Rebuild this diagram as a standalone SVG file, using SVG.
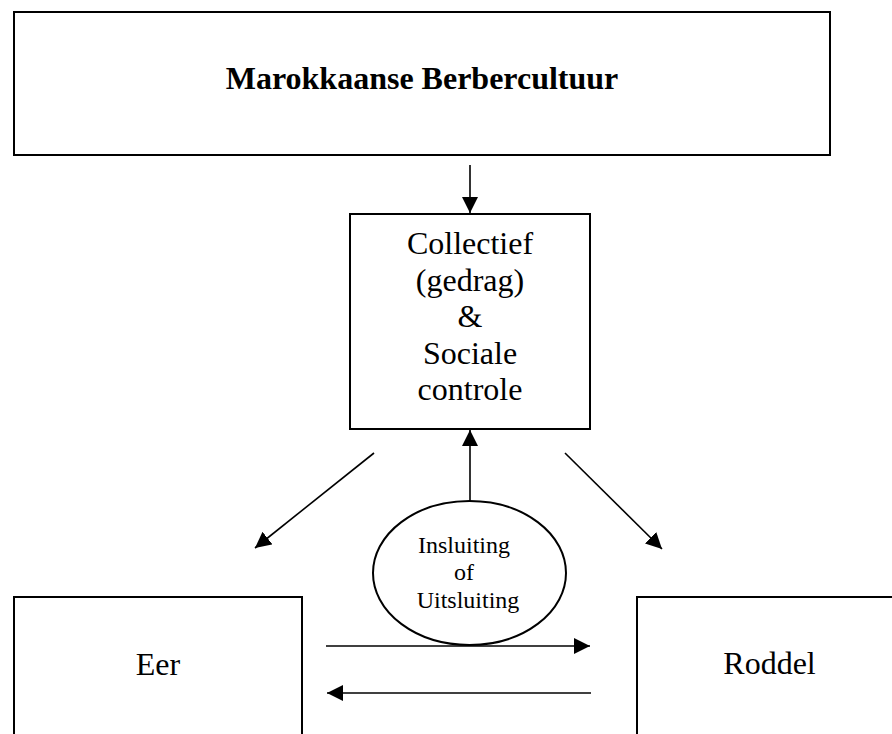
<svg xmlns="http://www.w3.org/2000/svg" width="892" height="734" viewBox="0 0 892 734">
  <style>
    .box { fill: #ffffff; stroke: #000000; stroke-width: 2; }
    .oval { fill: #ffffff; stroke: #000000; stroke-width: 2; }
    .edge { fill: none; stroke: #000000; stroke-width: 1.6; }
    .lbl { font-family: "Liberation Serif", "Times New Roman", serif; fill: #000000; text-anchor: middle; }
    .big { font-size: 32px; }
    .title { font-size: 32px; font-weight: bold; }
    .small { font-size: 24px; }
  </style>
  <defs>
    <marker id="arrow" viewBox="0 0 16 16" refX="16" refY="8" markerWidth="16" markerHeight="16" markerUnits="userSpaceOnUse" orient="auto">
      <path d="M0,0 L16,8 L0,16 Z" fill="#000000"/>
    </marker>
  </defs>

  <rect width="892" height="734" fill="#ffffff"/>

  <!-- connectors -->
  <g id="connectors">
    <line class="edge" x1="470" y1="165" x2="470" y2="213" marker-end="url(#arrow)"/>
    <line class="edge" x1="470" y1="501" x2="470" y2="430" marker-end="url(#arrow)"/>
    <line class="edge" x1="374" y1="453" x2="255" y2="548" marker-end="url(#arrow)"/>
    <line class="edge" x1="565" y1="453" x2="662" y2="549" marker-end="url(#arrow)"/>
    <line class="edge" x1="326" y1="646" x2="590" y2="646" marker-end="url(#arrow)"/>
    <line class="edge" x1="591" y1="693" x2="327" y2="693" marker-end="url(#arrow)"/>
  </g>

  <!-- culture -->
  <g id="node-culture">
    <rect class="box" x="14" y="12" width="816" height="143"/>
    <text class="lbl title" x="422" y="89">Marokkaanse Berbercultuur</text>
  </g>

  <!-- collective behaviour and social control -->
  <g id="node-collective">
    <rect class="box" x="350" y="214" width="240" height="215"/>
    <text class="lbl big" x="470" y="254">Collectief</text>
    <text class="lbl big" x="470" y="290.5">(gedrag)</text>
    <text class="lbl big" x="470" y="327">&amp;</text>
    <text class="lbl big" x="470" y="363.5">Sociale</text>
    <text class="lbl big" x="470" y="400">controle</text>
  </g>

  <!-- inclusion / exclusion -->
  <g id="node-inclusion">
    <ellipse class="oval" cx="469.5" cy="573" rx="96.5" ry="72"/>
    <text class="lbl small" x="464" y="553">Insluiting</text>
    <text class="lbl small" x="464" y="580">of</text>
    <text class="lbl small" x="468" y="608">Uitsluiting</text>
  </g>

  <!-- honour -->
  <g id="node-eer">
    <rect class="box" x="14" y="597" width="288" height="160"/>
    <text class="lbl big" x="158" y="675">Eer</text>
  </g>

  <!-- gossip -->
  <g id="node-roddel">
    <rect class="box" x="637" y="597" width="265" height="160"/>
    <text class="lbl big" x="769.5" y="674">Roddel</text>
  </g>
</svg>
